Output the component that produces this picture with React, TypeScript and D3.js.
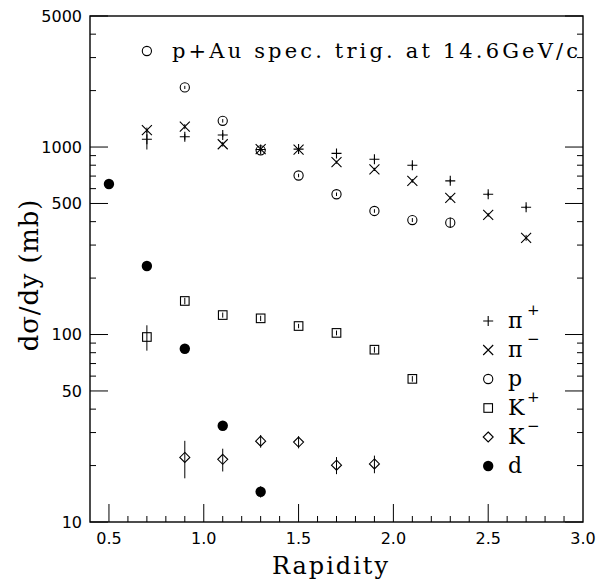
import React from "react";
import * as d3 from "d3";

// rapidity bins for each particle species
const piPlusY = [0.7, 0.9, 1.1, 1.3, 1.5, 1.7, 1.9, 2.1, 2.3, 2.5, 2.7];
const piPlusV = [1100, 1135, 1160, 970, 975, 925, 860, 800, 660, 560, 477];
const piPlusE = [130, 40, 30, 20, 20, 20, 15, 15, 15, 12, 10];

const piMinusY = [0.7, 0.9, 1.1, 1.3, 1.5, 1.7, 1.9, 2.1, 2.3, 2.5, 2.7];
const piMinusV = [1230, 1285, 1035, 975, 970, 830, 760, 660, 535, 435, 328];
const piMinusE = [40, 40, 30, 20, 20, 15, 15, 15, 12, 10, 12];

const protonY = [0.9, 1.1, 1.3, 1.5, 1.7, 1.9, 2.1, 2.3];
const protonV = [2080, 1380, 960, 705, 560, 456, 408, 395];
const protonE = [40, 30, 20, 15, 12, 10, 10, 25];

const kPlusY = [0.7, 0.9, 1.1, 1.3, 1.5, 1.7, 1.9, 2.1];
const kPlusV = [97, 151, 127, 122, 111, 102, 83, 58];
const kPlusE = [15, 6, 4, 4, 3, 3, 3, 2];

const kMinusY = [0.9, 1.1, 1.3, 1.5, 1.7, 1.9];
const kMinusV = [22.1, 21.6, 27.0, 26.7, 20.1, 20.4];
const kMinusE = [5, 3, 2.1, 2, 2.1, 2.2];

const deutY = [0.5, 0.7, 0.9, 1.1, 1.3];
const deutV = [635, 232, 84, 32.6, 14.5];
const deutE = [10, 5, 2, 1, 1];

const yTickLabels = [10, 50, 100, 500, 1000, 5000];
const xTickLabels = [0.5, 1.0, 1.5, 2.0, 2.5, 3.0];

const W = 600;
const H = 581;
const L = 90, R = 583, T = 16, B = 522;

const x = d3.scaleLinear().domain([0.4, 3.0]).range([L, R]);
const y = d3.scaleLog().domain([10, 5000]).range([B, T]);

const serif = "DejaVu Serif";
const sans = "DejaVu Sans";

type Shape = "plus" | "times" | "circle" | "square" | "diamond" | "dot";

function marker(shape: Shape, cx: number, cy: number, key: string) {
  const s = 5;
  const common = { stroke: "#000", strokeWidth: 1.1, fill: "none" };
  switch (shape) {
    case "plus":
      return <path key={key} d={`M${cx - s},${cy}H${cx + s}M${cx},${cy - s}V${cy + s}`} {...common} />;
    case "times":
      return <path key={key} d={`M${cx - s},${cy - s}L${cx + s},${cy + s}M${cx - s},${cy + s}L${cx + s},${cy - s}`} {...common} />;
    case "circle":
      return <circle key={key} cx={cx} cy={cy} r={4.6} {...common} />;
    case "square":
      return <rect key={key} x={cx - 4.3} y={cy - 4.3} width={8.6} height={8.6} {...common} />;
    case "diamond":
      return <path key={key} d={`M${cx},${cy - 5}L${cx + 5},${cy}L${cx},${cy + 5}L${cx - 5},${cy}Z`} {...common} />;
    default:
      return <circle key={key} cx={cx} cy={cy} r={5.2} fill="#000" />;
  }
}

const series: { name: string; sup: string; shape: Shape; xs: number[]; vs: number[]; es: number[] }[] = [
  { name: "π", sup: "+", shape: "plus", xs: piPlusY, vs: piPlusV, es: piPlusE },
  { name: "π", sup: "−", shape: "times", xs: piMinusY, vs: piMinusV, es: piMinusE },
  { name: "p", sup: "", shape: "circle", xs: protonY, vs: protonV, es: protonE },
  { name: "K", sup: "+", shape: "square", xs: kPlusY, vs: kPlusV, es: kPlusE },
  { name: "K", sup: "−", shape: "diamond", xs: kMinusY, vs: kMinusV, es: kMinusE },
  { name: "d", sup: "", shape: "dot", xs: deutY, vs: deutV, es: deutE },
];

export default function App() {
  const yMinor: number[] = [];
  for (const dec of [10, 100, 1000]) {
    for (let k = 1; k <= 9; k++) {
      const v = dec * k;
      if (v <= 5000 && v >= 10) yMinor.push(v);
    }
  }
  const yMajor = new Set(yTickLabels);
  const xMinor = d3.range(5, 30).map((i) => i / 10);

  return (
    <svg width={W} height={H} style={{ position: "absolute", left: 0, top: 0, background: "#fff" }}>
      {/* frame */}
      <rect x={L} y={T} width={R - L} height={B - T} fill="none" stroke="#000" strokeWidth={1.4} />

      {/* y ticks, both sides */}
      {yMinor.map((v) => {
        const len = yMajor.has(v) ? 18 : 6;
        const yy = y(v);
        return (
          <g key={"yt" + v} stroke="#000" strokeWidth={1}>
            <line x1={L} x2={L + len} y1={yy} y2={yy} />
            <line x1={R} x2={R - len} y1={yy} y2={yy} />
          </g>
        );
      })}
      {yTickLabels.map((v) => (
        <text key={"yl" + v} x={L - 8} y={y(v)} dy="0.36em" textAnchor="end" fontFamily={sans} fontSize={16}>
          {v}
        </text>
      ))}

      {/* x ticks */}
      {xMinor.map((v, i) => {
        const major = Math.abs(v * 2 - Math.round(v * 2)) < 1e-6;
        const len = major ? 18 : 6;
        return <line key={"xt" + i} x1={x(v)} x2={x(v)} y1={B} y2={B - len} stroke="#000" strokeWidth={1} />;
      })}
      {xTickLabels.map((v) => (
        <text key={"xl" + v} x={x(v)} y={544} textAnchor="middle" fontFamily={sans} fontSize={16}>
          {v.toFixed(1)}
        </text>
      ))}

      {/* axis titles */}
      <text x={330} y={574} textAnchor="middle" fontFamily={serif} fontSize={24} textLength={116} lengthAdjust="spacing">
        Rapidity
      </text>
      <text
        transform={`translate(38,275) rotate(-90)`}
        textAnchor="middle"
        fontFamily={serif}
        fontSize={26}
        letterSpacing={0.8}
      >
        dσ/dy (mb)
      </text>

      {/* title */}
      {marker("circle", x(0.7), 51, "title-m")}
      <text x={172} y={58} fontFamily={serif} fontSize={21} textLength={406} lengthAdjust="spacing">
        p+Au spec. trig. at 14.6GeV/c
      </text>

      {/* data */}
      {series.map((s, si) => (
        <g key={"s" + si}>
          {s.xs.map((xv, i) => {
            const cx = x(xv);
            const cy = y(s.vs[i]);
            return (
              <g key={i}>
                <line x1={cx} x2={cx} y1={y(s.vs[i] + s.es[i])} y2={y(s.vs[i] - s.es[i])} stroke="#000" strokeWidth={1} />
                {marker(s.shape, cx, cy, "m" + i)}
              </g>
            );
          })}
        </g>
      ))}

      {/* legend */}
      {series.map((s, i) => {
        const ly = 321 + i * 29;
        return (
          <g key={"lg" + i}>
            {marker(s.shape, x(2.5), ly, "lm" + i)}
            <text x={508} y={ly + 7} fontFamily={serif} fontSize={22}>
              {s.name}
            </text>
            {s.sup && (
              <text x={527} y={ly - 6} fontFamily={serif} fontSize={15}>
                {s.sup}
              </text>
            )}
          </g>
        );
      })}
    </svg>
  );
}
